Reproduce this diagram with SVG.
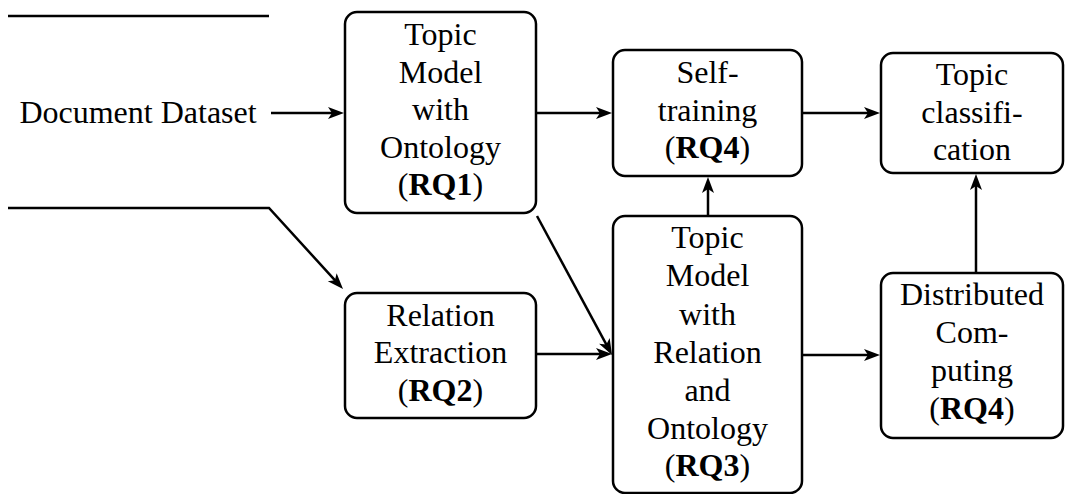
<svg xmlns="http://www.w3.org/2000/svg" width="1065" height="494" viewBox="0 0 1065 494">
  <defs>
    <!-- arrowhead, tip at the origin, pointing along +x -->
    <path id="ah" d="M0,0 L-16,-6 L-12,0 L-16,6 Z" fill="#000"/>
  </defs>

  <!-- connectors -->
  <g id="connectors" fill="none" stroke="#000" stroke-width="2.5">
    <line x1="8" y1="16" x2="269" y2="16"/>
    <polyline points="8,208 269,208 336.2,281.6"/>
    <line x1="271" y1="113" x2="334" y2="113"/>
    <line x1="537" y1="113" x2="602" y2="113"/>
    <line x1="803" y1="113" x2="870" y2="113"/>
    <line x1="537" y1="216" x2="607.2" y2="346.2"/>
    <line x1="537" y1="354" x2="602" y2="354"/>
    <line x1="708" y1="216" x2="708" y2="187"/>
    <line x1="803" y1="355" x2="870" y2="355"/>
    <line x1="976" y1="273" x2="976" y2="184"/>
    <use href="#ah" stroke="none" transform="translate(343,289) rotate(47.6)"/>
    <use href="#ah" stroke="none" transform="translate(344,113)"/>
    <use href="#ah" stroke="none" transform="translate(612,113)"/>
    <use href="#ah" stroke="none" transform="translate(880,113)"/>
    <use href="#ah" stroke="none" transform="translate(612,355) rotate(61.6)"/>
    <use href="#ah" stroke="none" transform="translate(612,354)"/>
    <use href="#ah" stroke="none" transform="translate(708,177) rotate(-90)"/>
    <use href="#ah" stroke="none" transform="translate(880,355)"/>
    <use href="#ah" stroke="none" transform="translate(976,174) rotate(-90)"/>
  </g>

  <!-- source label -->
  <g id="dataset">
    <text font-family="Liberation Serif" font-size="32" text-anchor="middle" x="138" y="123">Document Dataset</text>
  </g>

  <g id="topic-model-ontology">
    <rect fill="#fff" stroke="#000" stroke-width="2.5" x="345" y="12" width="191" height="201" rx="12"/>
    <text font-family="Liberation Serif" font-size="32" text-anchor="middle" x="440.5" y="45">Topic</text>
    <text font-family="Liberation Serif" font-size="32" text-anchor="middle" x="440.5" y="82.5">Model</text>
    <text font-family="Liberation Serif" font-size="32" text-anchor="middle" x="440.5" y="120">with</text>
    <text font-family="Liberation Serif" font-size="32" text-anchor="middle" x="440.5" y="157.5">Ontology</text>
    <text font-family="Liberation Serif" font-size="32" text-anchor="middle" x="440.5" y="195">(<tspan font-weight="bold">RQ1</tspan>)</text>
  </g>

  <g id="relation-extraction">
    <rect fill="#fff" stroke="#000" stroke-width="2.5" x="345" y="293" width="191" height="125" rx="12"/>
    <text font-family="Liberation Serif" font-size="32" text-anchor="middle" x="440.5" y="325.5">Relation</text>
    <text font-family="Liberation Serif" font-size="32" text-anchor="middle" x="440.5" y="363">Extraction</text>
    <text font-family="Liberation Serif" font-size="32" text-anchor="middle" x="440.5" y="400.5">(<tspan font-weight="bold">RQ2</tspan>)</text>
  </g>

  <g id="self-training">
    <rect fill="#fff" stroke="#000" stroke-width="2.5" x="613" y="50" width="189" height="126" rx="12"/>
    <text font-family="Liberation Serif" font-size="32" text-anchor="middle" x="707.5" y="83">Self-</text>
    <text font-family="Liberation Serif" font-size="32" text-anchor="middle" x="707.5" y="120.5">training</text>
    <text font-family="Liberation Serif" font-size="32" text-anchor="middle" x="707.5" y="158">(<tspan font-weight="bold">RQ4</tspan>)</text>
  </g>

  <g id="topic-model-relation-ontology">
    <rect fill="#fff" stroke="#000" stroke-width="2.5" x="613" y="216" width="189" height="277" rx="12"/>
    <text font-family="Liberation Serif" font-size="32" text-anchor="middle" x="707.5" y="248">Topic</text>
    <text font-family="Liberation Serif" font-size="32" text-anchor="middle" x="707.5" y="286">Model</text>
    <text font-family="Liberation Serif" font-size="32" text-anchor="middle" x="707.5" y="324.5">with</text>
    <text font-family="Liberation Serif" font-size="32" text-anchor="middle" x="707.5" y="362.5">Relation</text>
    <text font-family="Liberation Serif" font-size="32" text-anchor="middle" x="707.5" y="401">and</text>
    <text font-family="Liberation Serif" font-size="32" text-anchor="middle" x="707.5" y="438.5">Ontology</text>
    <text font-family="Liberation Serif" font-size="32" text-anchor="middle" x="707.5" y="476">(<tspan font-weight="bold">RQ3</tspan>)</text>
  </g>

  <g id="topic-classification">
    <rect fill="#fff" stroke="#000" stroke-width="2.5" x="881" y="53" width="182" height="120" rx="12"/>
    <text font-family="Liberation Serif" font-size="32" text-anchor="middle" x="972" y="85">Topic</text>
    <text font-family="Liberation Serif" font-size="32" text-anchor="middle" x="972" y="122.5">classifi-</text>
    <text font-family="Liberation Serif" font-size="32" text-anchor="middle" x="972" y="160">cation</text>
  </g>

  <g id="distributed-computing">
    <rect fill="#fff" stroke="#000" stroke-width="2.5" x="881" y="273" width="182" height="165" rx="12"/>
    <text font-family="Liberation Serif" font-size="32" text-anchor="middle" x="972" y="305">Distributed</text>
    <text font-family="Liberation Serif" font-size="32" text-anchor="middle" x="972" y="343">Com-</text>
    <text font-family="Liberation Serif" font-size="32" text-anchor="middle" x="972" y="381">puting</text>
    <text font-family="Liberation Serif" font-size="32" text-anchor="middle" x="972" y="419">(<tspan font-weight="bold">RQ4</tspan>)</text>
  </g>
</svg>
